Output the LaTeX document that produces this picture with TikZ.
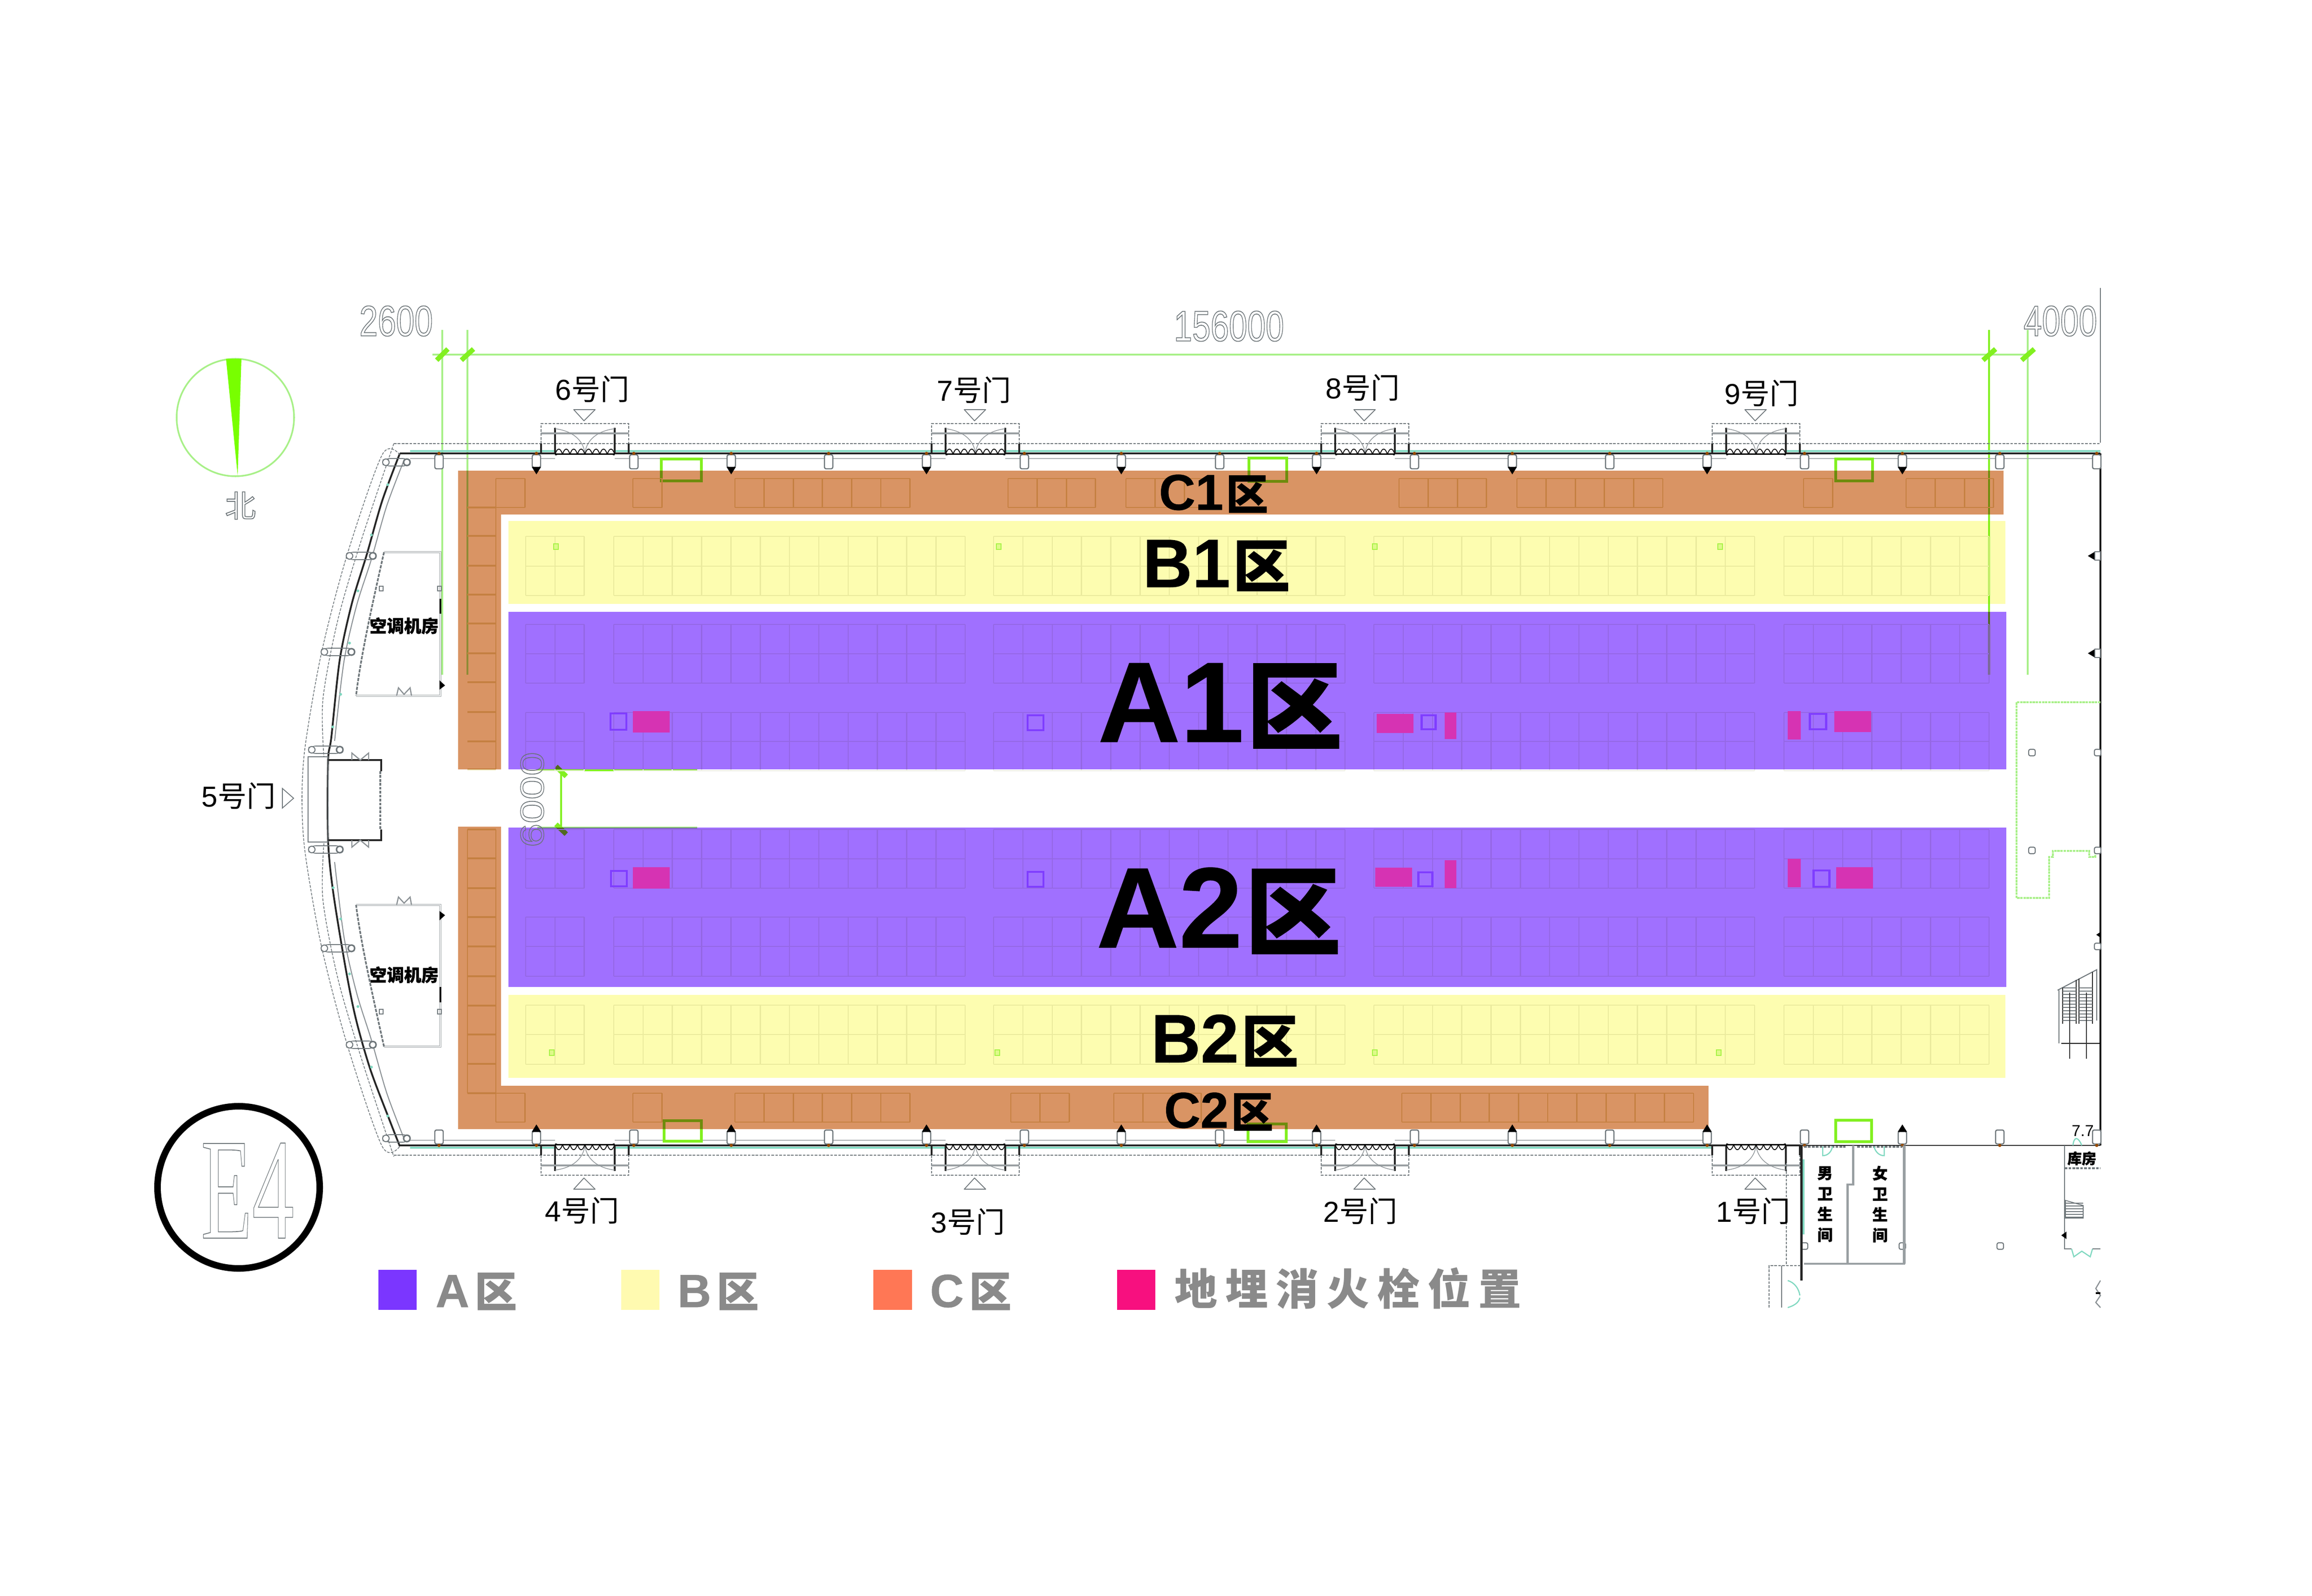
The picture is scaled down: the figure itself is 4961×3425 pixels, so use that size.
\documentclass[tikz,border=0pt]{standalone}
\usepackage{fontspec}
\setmainfont[BoldFeatures={FakeBold=0.6}]{Liberation Sans}
\newfontfamily\cjk[BoldFeatures={FakeBold=1.2}]{Noto Sans CJK SC}
\newfontfamily\cjkleg[LetterSpace=18]{Noto Sans CJK SC}
\newfontfamily\serf{Liberation Serif}
\usetikzlibrary{calc}
\newcommand\fpx[1]{\pgfmathsetlengthmacro\fpxv{#1*0.2845pt}\fontsize{\fpxv}{\fpxv}\selectfont}
\newcommand\outl[1]{\special{pdf:code 1 Tr 0.5 w}#1\special{pdf:code 0 Tr}}
\definecolor{regA}{HTML}{A070FF}
\definecolor{regB}{HTML}{FDFDB0}
\definecolor{regC}{HTML}{D99464}
\definecolor{fire}{HTML}{D633B3}
\definecolor{hyd}{HTML}{7F3DFF}
\definecolor{lgA}{HTML}{7B36FF}
\definecolor{lgB}{HTML}{FFFAB0}
\definecolor{lgC}{HTML}{FF7755}
\definecolor{lgF}{HTML}{F7107F}
\definecolor{gr}{HTML}{82F020}
\definecolor{lgr}{HTML}{A8F088}
\definecolor{wedge}{HTML}{78FF00}
\definecolor{teal}{HTML}{7FD8C0}
\definecolor{plan}{HTML}{6E767A}
\definecolor{dimtxt}{HTML}{6A7276}
\definecolor{cell}{HTML}{ECECE4}
\definecolor{ccell}{HTML}{E8DDA8}
\definecolor{legtxt}{HTML}{8A8A8A}
\tikzset{
  x=0.01cm,y=-0.01cm,
  planline/.style={draw=plan,line width=0.7pt},
  thickplan/.style={draw=plan!70,line width=1.1pt},
  darkline/.style={draw=black!85,line width=1.0pt},
  dashline/.style={draw=plan,line width=0.45pt,dash pattern=on 1.6pt off 0.8pt},
  swing/.style={draw=plan!80,line width=0.4pt},
  tealswing/.style={draw=teal,line width=0.7pt},
  dimline/.style={draw=lgr,line width=1.0pt},
  dimstrong/.style={draw=gr,line width=1.2pt},
  dimtick/.style={draw=gr,line width=3pt},
  gbox/.style={draw=gr,line width=1.5pt},
  gsmall/.style={draw=gr!70,fill=gr!25,line width=0.4pt},
  region/.style={blend mode=multiply},
  cellline/.style={draw=cell,line width=0.7pt},
  ccellline/.style={draw=ccell,line width=0.8pt},
  doorlab/.style={font=\fpx{62},text=black,inner sep=0pt},
  roomlab/.style={font=\fpx{37}\cjk\bfseries,text=black,inner sep=0pt},
  dimlab/.style={text=dimtxt,inner sep=0pt},
  zonelab/.style={text=black,inner sep=0pt,anchor=base},
  hydbox/.style={draw=hyd,line width=1.4pt},
  legtext/.style={text=legtxt,inner sep=0pt,anchor=base west},
}
\newcommand\zone[3]{{\bfseries\fpx{#2}#1}\hspace{0.17em}{\cjk\bfseries\fpx{#3}区}}
\newcommand\doorunit[1]{%
  \begin{scope}[shift={(#1,0)}]
    \fill[white] (-64,962) rectangle (64,990);
    \draw[dashline] (-94,952) -- (-94,909) -- (94,909) -- (94,952);
    \draw[darkline] (-94,952) -- (-94,973) -- (-64,973) -- (-64,918);
    \draw[darkline] (94,952) -- (94,973) -- (64,973) -- (64,918);
    \draw[thickplan] (-94,930) -- (94,930);
    \draw[swing] (-64,920) .. controls (-25,925) and (-4,945) .. (0,972);
    \draw[swing] (64,920) .. controls (25,925) and (4,945) .. (0,972);
    \foreach \k in {-64,-48,-32,-16,0,16,32,48}{
      \draw[black,line width=0.5pt] (\k,975) .. controls (\k+5,960) and (\k+11,960) .. (\k+16,975);}
    \draw[black,line width=0.9pt] (-64,975) -- (64,975);
    \fill[white] (-60,976) rectangle (60,990);
    \draw[planline,line width=0.5pt,fill=white,line join=round] (-24,879) -- (22,879) -- (-2,903) -- cycle;
  \end{scope}}
\newcommand\colb[1]{\draw[planline,fill=white,rounded corners=1pt] (#1-9,976) rectangle (#1+9,1006);\fill[black!40!orange] (#1,973) circle (3.5);}
\newcommand\colp[1]{\draw[planline,fill=white,rounded corners=1pt] (#1-9,976) rectangle (#1+9,1003);\fill[black] (#1-10,1002) -- (#1+10,1002) -- (#1,1018) -- cycle;\fill[black!40!orange] (#1,973) circle (3.5);}
\newcommand\cellrow[3]{%
  \foreach \gA/\gN in {1128/2,1317/12,2132/12,2948/13,3828/7}{
    \pgfmathsetmacro\gB{\gA+62.85*\gN}
    \draw[cellline] (\gA,#2) -- (\gB,#2);
    \draw[cellline] (\gA,#1) -- (\gB,#1);
    \draw[cellline] (\gA,#3) -- (\gB,#3);
    \foreach \gI in {0,...,\gN}{
      \pgfmathsetmacro\gX{\gA+62.85*\gI}
      \draw[cellline] (\gX,#1) -- (\gX,#3);}
  }}
\newcommand\ocells[3]{%
  \foreach \gA/\gN in {#1}{
    \pgfmathsetmacro\gB{\gA+62.6*\gN}
    \draw[ccellline] (\gA,#2) -- (\gB,#2);
    \draw[ccellline] (\gA,#3) -- (\gB,#3);
    \foreach \gI in {0,...,\gN}{
      \pgfmathsetmacro\gX{\gA+62.6*\gI}
      \draw[ccellline] (\gX,#2) -- (\gX,#3);}
  }}
\newcommand\walltop{(858,973) -- (4507,973)}
\begin{document}
\begin{tikzpicture}
\useasboundingbox (0,0) rectangle (4961,3425);
\fill[white] (0,0) rectangle (4961,3425);

% ---------- green dimensions under the colour regions
\foreach \xx in {949,1003}{\draw[dimline] (\xx,708) -- (\xx,1448);}
\draw[dimstrong] (4268,708) -- (4268,1448);
\draw[dimline] (4351,708) -- (4351,1448);
\draw[dimline] (928,761) -- (4351,761);
\foreach \xa/\xb in {937/961,990/1016,4255/4282,4338/4365}{\draw[dimtick] (\xa,773) -- (\xb,749);}
\draw[dimstrong] (1204,1653) -- (1204,1774);
\draw[dimstrong] (1153,1653) -- (1496,1653);
\draw[dimline] (1153,1776) -- (1496,1776);
\draw[dimtick] (1193,1645) -- (1215,1666);
\draw[dimtick] (1193,1769) -- (1215,1790);
\draw[draw=plan,line width=0.4pt] (4507,618) -- (4507,950);

% ---------- walls
\draw[draw=plan!60,line width=0.8pt] (880,984) -- (4507,984);
\draw[draw=teal,line width=0.9pt] (880,968) -- (4507,968);
\draw[black!85,line width=1.2pt] \walltop;
\draw[dashline] (845,952) -- (4507,952);
\begin{scope}[shift={(0,3431)},yscale=-1]
  \draw[draw=plan!60,line width=0.8pt] (880,984) -- (3672,984);
  \draw[draw=teal,line width=0.9pt] (880,968) -- (3672,968);
  \draw[black!85,line width=1.2pt] (858,973) -- (3672,973);
  \draw[dashline] (845,952) -- (3673,952);
\end{scope}
\draw[black!85,line width=0.7pt] (3672,2458) -- (4507,2458);
\draw[black!90,line width=0.9pt] (4507,973) -- (4507,2458);

% arc walls
\draw[black!85,line width=1.1pt] plot[smooth] coordinates {(858,973) (820,1075) (787,1190) (755,1295) (729,1416) (711,1582) (704,1633) (704,1803) (715,1915) (742,2080) (764,2188) (795,2296) (836,2404) (858,2460)};
\draw[swing,line width=0.6pt] plot[smooth] coordinates {(868,985) (830,1085) (797,1200) (765,1300) (738,1420) (718,1590)};
\draw[swing,line width=0.6pt] plot[smooth] coordinates {(718,1850) (738,2010) (765,2130) (797,2232) (830,2346) (868,2446)};
\draw[dashline] plot[smooth] coordinates {(845,952) (775,1160) (725,1330) (693,1500) (695,1625)};
\draw[dashline] plot[smooth] coordinates {(695,1810) (693,1932) (725,2100) (775,2270) (845,2482)};
\draw[dashline] plot[smooth] coordinates {(858,976) (820,976) (745,1190) (690,1400) (655,1600) (648,1716) (655,1832) (690,2032) (745,2242) (820,2460) (858,2460)};
\foreach \xa/\xb/\yy in {822/879/992,744/806/1193,690/760/1399,663/735/1609,663/735/1823,690/760/2035,744/806/2242,822/879/2443}{
  \draw[planline,line width=0.45pt,rounded corners=4] (\xa,\yy-8) rectangle (\xb,\yy+8);
  \draw[planline,line width=0.6pt,fill=white] (\xa+6,\yy) circle (7);
  \draw[planline,line width=0.9pt,fill=white] (\xb-6,\yy) circle (7);}
\foreach \xx/\yy in {832/1040,797/1148,768/1268,750/1380,731/1490,714/1560,715/1905,731/1972,750/2090,768/2160,797/2290,832/2395}{\fill[teal] (\xx,\yy) circle (3);}

% door 5
\draw[planline,line width=0.5pt] (661,1624) rectangle (704,1807);
\draw[darkline] (704,1631) -- (818,1631) -- (818,1655);
\draw[darkline] (704,1803) -- (818,1803) -- (818,1780);
\draw[dashline,line width=0.9pt] (816,1655) -- (816,1780);
\foreach \yy/\yb in {1631/1616,1803/1818}{
  \draw[swing,line width=0.7pt] (755,\yy) -- (755,\yb) -- (773,\yy) -- (791,\yb) -- (791,\yy);}
\draw[planline,line width=0.5pt] (606,1692) -- (630,1713) -- (606,1734) -- cycle;

% doors and columns, top
\foreach \dd in {1255,2093,2929,3768}{\doorunit{\dd}}
\foreach \xx in {942,1360,1778,2198,2617,3035,3454,3872,4291,4499}{\colb{\xx}}
\foreach \xx in {1151,1569,1988,2406,2825,3245,3663,4082}{\colp{\xx}}
% doors and columns, bottom
\begin{scope}[shift={(0,3431)},yscale=-1]
  \foreach \dd in {1255,2093,2929,3768}{\doorunit{\dd}}
  \foreach \xx in {942,1360,1778,2198,2617,3035,3454,3872,4291,4499}{\colb{\xx}}
  \foreach \xx in {1151,1569,1988,2406,2825,3245,3663,4082}{\colp{\xx}}
\end{scope}

% air-conditioning rooms
\draw[thickplan,double=white,double distance=0.5pt,line width=0.35pt] (824,1185) -- (945,1185) -- (945,1493) -- (764,1493);
\draw[planline,line width=1pt,dash pattern=on 2pt off 0.7pt] (824,1185) .. controls (805,1270) and (775,1400) .. (764,1493);
\draw[black,line width=1.3pt] (945,1285) -- (945,1317);
\fill[black] (943,1460) -- (955,1471) -- (943,1480) -- cycle;
\draw[swing,line width=0.7pt] (851,1493) -- (855,1476) -- (867,1490) -- (880,1476) -- (883,1493);
\draw[thickplan,double=white,double distance=0.5pt,line width=0.35pt] (824,2246) -- (945,2246) -- (945,1942) -- (764,1942);
\draw[planline,line width=1pt,dash pattern=on 2pt off 0.7pt] (824,2246) .. controls (805,2160) and (775,2030) .. (764,1942);
\draw[black,line width=1.3pt] (945,2118) -- (945,2151);
\fill[black] (943,1955) -- (955,1964) -- (943,1975) -- cycle;
\draw[swing,line width=0.7pt] (851,1942) -- (855,1925) -- (867,1938) -- (880,1925) -- (883,1942);
\foreach \xx/\yy in {818/1263,943/1263,818/2171,943/2171}{\draw[planline,line width=0.4pt] (\xx-4,\yy-5) rectangle (\xx+4,\yy+5);}

% right-hand side fittings
\draw[dimline,dash pattern=on 1.5pt off 0.4pt] (4507,1507) -- (4327,1507) -- (4327,1927) -- (4397,1927) -- (4397,1839) -- (4405,1839) -- (4405,1826) -- (4483,1826) -- (4483,1839) -- (4496,1839) -- (4496,1826) -- (4507,1826);
\foreach \yy in {1193,1402}{
  \fill[black] (4480,\yy) -- (4495,\yy-9) -- (4495,\yy+9) -- cycle;
  \draw[planline,line width=0.5pt,fill=white] (4495,\yy-9) rectangle (4507,\yy+9);}
\fill[black] (4498,2006) -- (4507,2000) -- (4507,2012) -- cycle;
\foreach \xx/\yy in {4360/1615,4360/1825,4501/1615,4501/1825,4501/2031,4292/2674,4082/2674,3872/2674}{
  \draw[planline,line width=0.6pt,rounded corners=1pt,fill=white] (\xx-7,\yy-7) rectangle (\xx+7,\yy+7);}
% escalators
\draw[planline,line width=0.6pt] (4415,2125) -- (4499,2081) -- (4499,2190);
\foreach \xx/\yy in {4426/2119,4455/2103,4461/2100,4490/2086}{\draw[darkline,line width=0.8pt] (\xx,\yy) -- (\xx,2197);}
\foreach \yy in {2120,2127,...,2190}{
  \draw[plan,line width=0.3pt] (4426,\yy) -- (4455,\yy);
  \draw[plan,line width=0.3pt] (4461,\yy) -- (4490,\yy);}
\draw[black,line width=0.6pt] (4423,2239) -- (4507,2239);
\draw[plan,line width=0.4pt] (4418,2125) -- (4418,2239);
\foreach \xx in {4441,4477}{\draw[black!80,line width=0.4pt] (\xx,2130) -- (\xx,2272);}

% rest rooms
\draw[teal,line width=2pt] (3868,2488) -- (3868,2649);
\draw[black!85,line width=1.4pt] (3865,2458) -- (3865,2748);
\draw[thickplan] (3871,2712) -- (4088,2712);
\draw[thickplan,line width=1.6pt] (4086,2458) -- (4086,2712);
\draw[thickplan,line width=1.4pt] (3976,2458) -- (3976,2542) -- (3964,2542) -- (3964,2712);
\draw[dashline,line width=0.9pt] (3871,2461) -- (3960,2461);
\draw[dashline,line width=0.9pt] (3985,2461) -- (4082,2461);
\draw[tealswing] (3911,2460) -- (3911,2480) .. controls (3922,2480) and (3930,2472) .. (3932,2460);
\draw[tealswing] (4043,2460) -- (4043,2480) .. controls (4032,2480) and (4024,2472) .. (4021,2460);
\draw[dashline] (3833,2496) -- (3833,2716);
\draw[dashline] (3796,2806) -- (3796,2716) -- (3865,2716);
\draw[planline,line width=0.5pt] (3823,2716) -- (3823,2806);
\draw[tealswing] (3836,2748) .. controls (3850,2752) and (3860,2765) .. (3862,2780);
\draw[tealswing] (3836,2806) .. controls (3850,2802) and (3860,2795) .. (3862,2785);
% store room
\draw[planline,line width=0.6pt] (4430,2458) -- (4430,2680) -- (4445,2680);
\draw[dashline,line width=1.2pt] (4430,2507) -- (4507,2507);
\draw[tealswing] (4448,2458) .. controls (4450,2440) and (4458,2437) .. (4467,2458);
\draw[tealswing] (4445,2680) -- (4450,2697) -- (4467,2685) -- (4485,2697) -- (4490,2680);
\draw[planline,line width=0.6pt] (4490,2680) -- (4507,2680);
\draw[plan,line width=0.5pt] (4432,2576) -- (4470,2587) -- (4470,2614) -- (4432,2614) -- cycle;
\foreach \yy in {2582,2588,...,2612}{\draw[plan,line width=0.3pt] (4432,\yy) -- (4470,\yy);}
\fill[black] (4423,2651) -- (4434,2643) -- (4434,2659) -- cycle;
\draw[swing,line width=0.7pt] (4507,2748) -- (4497,2765) -- (4507,2780) -- (4497,2795) -- (4507,2806);
\draw[black,line width=1.2pt] (4497,2775) -- (4507,2775);

% green lift boxes
\foreach \xa/\xb/\ya/\yb in {1419/1505/985/1032,2680/2761/983/1033,3939/4018/985/1032,1425/1505/2405/2449,2678/2760/2412/2450,3939/4016/2404/2450}{
  \draw[gbox] (\xa,\ya) rectangle (\xb,\yb);}

% cell grids (tinted by the regions above them)
\cellrow{1151}{1215}{1278}
\cellrow{1340}{1403}{1466}
\cellrow{1529}{1591}{1654}
\cellrow{1780}{1843}{1906}
\cellrow{1968}{2031}{2095}
\cellrow{2157}{2220}{2284}
\ocells{1064/1,1358/1,1577/6,2163/3,2416/3,3002/3,3255/5,3870/1,4090/3}{1027}{1089}
\ocells{1064/1,1358/1,1577/6,2169/2,2390/3,3008/10}{2346}{2408}
\foreach \yy in {1089,1150,1214,1276,1338,1402,1464,1528,1591,1651,1780,1842,1906,1968,2031,2095,2158,2220,2283,2346}{\draw[ccellline,line width=1.1pt] (1003,\yy) -- (1064,\yy);}
\draw[ccellline] (1064,1089) -- (1064,1651);
\draw[ccellline] (1064,1780) -- (1064,2346);
\draw[ccellline] (1003,1780) -- (1003,2346);
\foreach \xx/\yy in {1193/1173,2143/1173,2950/1173,3691/1173,1184/2259,2140/2259,2950/2259,3688/2259}{\draw[gsmall] (\xx-5,\yy-6) rectangle (\xx+5,\yy+6);}

% colour regions
\fill[regC,region] (983,1010) -- (4299,1010) -- (4299,1104) -- (1075,1104) -- (1075,1651) -- (983,1651) -- cycle;
\fill[regC,region] (983,1774) -- (1075,1774) -- (1075,2330) -- (3666,2330) -- (3666,2423) -- (983,2423) -- cycle;
\fill[regB,region] (1091,1118) rectangle (4303,1296);
\fill[regB,region] (1091,2135) rectangle (4303,2313);
\fill[regA,region] (1091,1313) rectangle (4305,1651);
\fill[regA,region] (1091,1776) rectangle (4305,2118);

% hydrants
\foreach \xa/\xb/\ya/\yb in {1310/1344/1531/1566,2205/2239/1535/1567,3050/3080/1535/1565,3883/3918/1532/1565,1311/1345/1869/1902,2205/2239/1871/1903,3043/3073/1872/1902,3891/3925/1868/1903}{
  \draw[hydbox] (\xa,\ya) rectangle (\xb,\yb);}
\foreach \xa/\xb/\ya/\yb in {1358/1437/1526/1572,2954/3033/1532/1573,3100/3125/1529/1586,3836/3864/1526/1587,3936/4015/1526/1571,1358/1437/1861/1907,2951/3030/1862/1903,3100/3125/1846/1906,3836/3864/1843/1904,3940/4019/1861/1907}{
  \fill[fire] (\xa,\ya) rectangle (\xb,\yb);}

% zone labels
\node[zonelab] (labA1) at (2618,1592) {\zone{A1}{245}{205}};
\node[zonelab] (labA2) at (2615,2033) {\zone{A2}{245}{205}};
\node[zonelab] (labB1) at (2610,1260) {\zone{B1}{147}{122}};
\node[zonelab] (labB2) at (2628,2280) {\zone{B2}{147}{122}};
\node[zonelab] (labC1) at (2604,1094) {\zone{C1}{108}{90}};
\node[zonelab] (labC2) at (2615,2420) {\zone{C2}{108}{90}};

% door labels
\node[doorlab] (d6) at (1271,835) {6{\cjk 号门}};
\node[doorlab] (d7) at (2090,837) {7{\cjk 号门}};
\node[doorlab] (d8) at (2924,832) {8{\cjk 号门}};
\node[doorlab] (d9) at (3780,844) {9{\cjk 号门}};
\node[doorlab] (d1) at (3762,2599) {1{\cjk 号门}};
\node[doorlab] (d2) at (2919,2599) {2{\cjk 号门}};
\node[doorlab] (d3) at (2077,2622) {3{\cjk 号门}};
\node[doorlab] (d4) at (1249,2598) {4{\cjk 号门}};
\node[doorlab] (d5) at (512,1708) {5{\cjk 号门}};
\node[roomlab] (ac1) at (867,1343) {空调机房};
\node[roomlab] (ac2) at (867,2092) {空调机房};
\node[roomlab,align=center,font=\fpx{33}\cjk\bfseries] (wcm) at (3916,2584) {男\\[3.2pt]卫\\[3.2pt]生\\[3.2pt]间};
\node[roomlab,align=center,font=\fpx{33}\cjk\bfseries] (wcf) at (4034,2584) {女\\[3.2pt]卫\\[3.2pt]生\\[3.2pt]间};
\node[roomlab,font=\fpx{31}\cjk\bfseries] (store) at (4467,2486) {库房};
\node[roomlab,font=\fpx{34}] (lev) at (4469,2427) {7.7};

% dimension texts
\node[dimlab,xscale=0.77] (t2600) at (850,689) {\fpx{92}\outl{2600}};
\node[dimlab,xscale=0.77] (t156) at (2637,700) {\fpx{92}\outl{156000}};
\node[dimlab,xscale=0.77] (t4000) at (4421,689) {\fpx{92}\outl{4000}};
\node[dimlab,xscale=0.77,rotate=90] (t6000) at (1142,1716) {\fpx{92}\outl{6000}};

% north arrow
\draw[dimline] (505,896) circle (126);
\fill[wedge] (485,770) -- (518,770) -- (510,1021) -- cycle;
\node[dimlab] (north) at (516,1085) {\fpx{66}{\cjk\outl{北}}};

% hall badge
\draw[black,line width=4pt] (512,2548) circle (174);
\node[dimlab] (hall) at (531,2555) {\serf\fpx{310}\scalebox{0.58}[1]{\outl{E4}}};

% legend
\fill[lgA] (812,2725) rectangle (894,2811);
\fill[lgB] (1333,2725) rectangle (1415,2811);
\fill[lgC] (1874,2725) rectangle (1957,2811);
\fill[lgF] (2397,2725) rectangle (2479,2811);
\node[legtext] (lA) at (934,2805) {\fpx{100}\bfseries A\hspace{0.12em}{\cjk\fpx{90}区}};
\node[legtext] (lB) at (1453,2805) {\fpx{100}\bfseries B\hspace{0.12em}{\cjk\fpx{90}区}};
\node[legtext] (lC) at (1995,2805) {\fpx{100}\bfseries C\hspace{0.12em}{\cjk\fpx{90}区}};
\node[legtext] (lF) at (2520,2800) {\cjkleg\bfseries\fpx{92}地埋消火栓位置};
\end{tikzpicture}
\end{document}
